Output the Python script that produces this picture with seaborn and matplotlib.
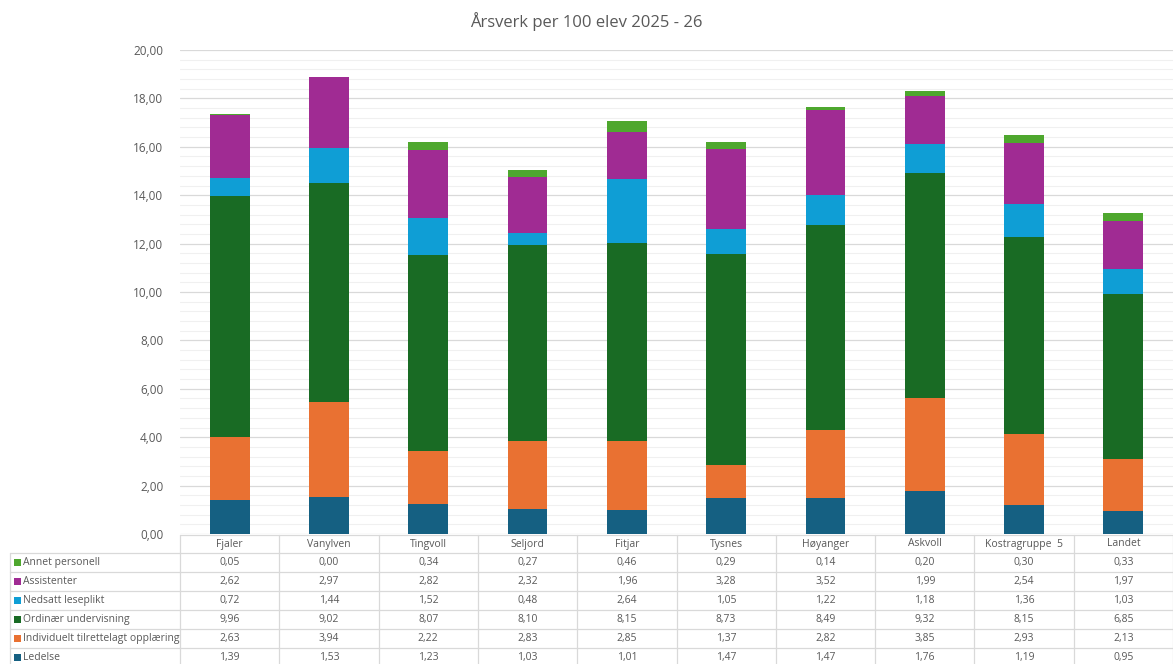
import matplotlib
matplotlib.use("Agg")
import matplotlib.pyplot as plt
import seaborn as sns
import numpy as np
import pandas as pd
from matplotlib.transforms import blended_transform_factory
from matplotlib.patches import Rectangle

categories = ["Fjaler", "Vanylven", "Tingvoll", "Seljord", "Fitjar", "Tysnes",
              "Høyanger", "Askvoll", "Kostragruppe  5", "Landet"]
ledelse = [1.39, 1.53, 1.23, 1.03, 1.01, 1.47, 1.47, 1.76, 1.19, 0.95]
individuelt = [2.63, 3.94, 2.22, 2.83, 2.85, 1.37, 2.82, 3.85, 2.93, 2.13]
ordinaer = [9.96, 9.02, 8.07, 8.10, 8.15, 8.73, 8.49, 9.32, 8.15, 6.85]
nedsatt = [0.72, 1.44, 1.52, 0.48, 2.64, 1.05, 1.22, 1.18, 1.36, 1.03]
assistenter = [2.62, 2.97, 2.82, 2.32, 1.96, 3.28, 3.52, 1.99, 2.54, 1.97]
annet = [0.05, 0.00, 0.34, 0.27, 0.46, 0.29, 0.14, 0.20, 0.30, 0.33]

series_names = ["Ledelse", "Individuelt tilrettelagt opplæring", "Ordinær undervisning",
                "Nedsatt leseplikt", "Assistenter", "Annet personell"]
series_values = [ledelse, individuelt, ordinaer, nedsatt, assistenter, annet]
colors = ["#156082", "#E97132", "#196B24", "#0F9ED5", "#A02B93", "#4EA72E"]

title = "Årsverk per 100 elev 2025 - 26"

sns.set_theme(style="white")
plt.rcParams["font.family"] = ["Open Sans", "DejaVu Sans"]

W, H = 1173, 664
fig = plt.figure(figsize=(W / 100, H / 100), dpi=100)
ax = fig.add_axes([180 / W, 1 - 534 / H, 1 - 180 / W, (534 - 50) / H])

df = pd.DataFrame(dict(zip(series_names, series_values)), index=categories)
cum = df.cumsum(axis=1)

# draw from top (cumulative) to bottom so lower segments overlay
for name, col in reversed(list(zip(series_names, colors))):
    sns.barplot(x=categories, y=cum[name].values, color=col, saturation=1,
                width=0.4, linewidth=0, ax=ax, zorder=3, errorbar=None)

ax.set_ylim(0, 20)
ax.set_xlim(-0.5, len(categories) - 0.5)
ax.set_yticks(np.arange(0, 20.01, 2))
ax.set_yticks(np.arange(0, 20.01, 0.4), minor=True)
ax.set_yticklabels([f"{v:.2f}".replace(".", ",") for v in np.arange(0, 20.01, 2)],
                   color="#595959", fontsize=8.5)
ax.tick_params(axis="y", which="both", length=0, pad=12)
ax.set_xticks([])
ax.set_xlabel("")
ax.grid(axis="y", which="major", color="#D9D9D9", linewidth=0.9, zorder=0)
ax.grid(axis="y", which="minor", color="#F0F0F0", linewidth=0.8, zorder=0)
for s in ax.spines.values():
    s.set_visible(False)

fig.text(0.5, 1 - 22 / H, title, ha="center", va="center", fontsize=12, color="#595959")

# data table below the plot
tr = blended_transform_factory(ax.transData, fig.transFigure)
trf = fig.transFigure
line_col = "#D9D9D9"
n = len(categories)
top_y = 1 - 535 / H
header_h = 18 / H
row_h = 19 / H
header_bottom = top_y - header_h
ax.plot([-0.5, n - 0.5], [top_y, top_y], transform=tr, color=line_col, lw=0.9, clip_on=False)
for k in range(n + 1):
    ax.plot([k - 0.5, k - 0.5], [0, top_y], transform=tr, color=line_col, lw=0.9, clip_on=False)
for i, c in enumerate(categories):
    ax.text(i, top_y - header_h / 2, c, transform=tr, ha="center", va="center",
            fontsize=7.5, color="#595959", clip_on=False)
left_x = 10 / W
fig.add_artist(plt.Line2D([left_x, left_x], [0, header_bottom], transform=trf, color=line_col, lw=0.9))
rows = list(zip(series_names, series_values, colors))[::-1]
for r, (name, vals, col) in enumerate(rows):
    y_top = header_bottom - r * row_h
    fig.add_artist(plt.Line2D([left_x, 1], [y_top, y_top], transform=trf, color=line_col, lw=0.9))
    yc = y_top - row_h / 2
    fig.add_artist(Rectangle((14 / W, yc - 3.5 / H), 7 / W, 7 / H, transform=trf,
                             facecolor=col, edgecolor="none"))
    fig.text(23 / W, yc, name, ha="left", va="center", fontsize=7.5, color="#595959")
    for i, v in enumerate(vals):
        ax.text(i, yc, f"{v:.2f}".replace(".", ","), transform=tr, ha="center", va="center",
                fontsize=7.5, color="#595959", clip_on=False)

fig.savefig("out.png", dpi=100, facecolor="white")
